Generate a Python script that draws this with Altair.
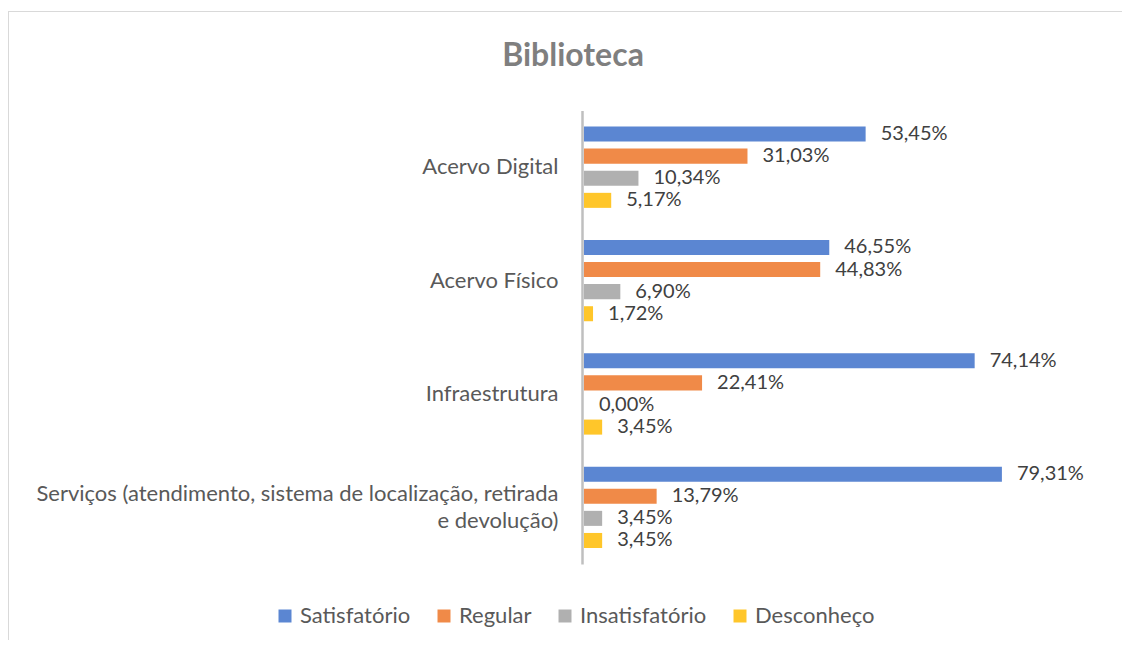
import altair as alt
import pandas as pd

categories = [
    "Acervo Digital",
    "Acervo Físico",
    "Infraestrutura",
    "Serviços (atendimento, sistema de localização, retirada e devolução)",
]
series = ["Satisfatório", "Regular", "Insatisfatório", "Desconheço"]
colors = ["#5B86D2", "#F08A48", "#B0B0B0", "#FFC62A"]

satisfatorio = [53.45, 46.55, 74.14, 79.31]
regular = [31.03, 44.83, 22.41, 13.79]
insatisfatorio = [10.34, 6.90, 0.00, 3.45]
desconheco = [5.17, 1.72, 3.45, 3.45]

values_by_series = [satisfatorio, regular, insatisfatorio, desconheco]

rows = []
for s, vals in zip(series, values_by_series):
    for c, v in zip(categories, vals):
        rows.append({"categoria": c, "serie": s, "valor": v,
                     "rotulo": f"{v:.2f}".replace(".", ",") + "%"})
df = pd.DataFrame(rows)

W, H = 1114, 629
FONT = "Lato"

x_scale = alt.Scale(domain=[-109.3, 102.1])
y_scale = alt.Scale(domain=categories, range=[99.5, 553], paddingInner=0.22, paddingOuter=0.11)
yoff_scale = alt.Scale(domain=series, paddingInner=0.32, paddingOuter=0.16)

long_label = categories[3]
label_expr = (
    f"datum.label == '{long_label}' ? "
    "['Serviços (atendimento, sistema de localização, retirada', 'e devolução)'] : datum.label"
)
label_offset = {"condition": {"test": f"datum.value == '{long_label}'", "value": -13.5}, "value": 0}

base = alt.Chart(df)

bars = base.mark_bar().encode(
    x=alt.X("valor:Q", scale=x_scale, axis=None),
    x2=alt.datum(0),
    y=alt.Y("categoria:N", scale=y_scale, sort=categories, title=None,
            axis=alt.Axis(orient="left", offset=-574, ticks=False, tickSize=0,
                          labelPadding=24, labelFont=FONT, labelFontSize=22,
                          labelColor="#595959", labelLimit=700,
                          labelExpr=label_expr, labelLineHeight=27,
                          labelOffset=label_offset,
                          domainColor="#BFBFBF", domainWidth=2.5, grid=False)),
    yOffset=alt.YOffset("serie:N", scale=yoff_scale, sort=series),
    color=alt.Color("serie:N", sort=series,
                    scale=alt.Scale(domain=series, range=colors),
                    legend=alt.Legend(title=None, orient="none", direction="horizontal",
                                      legendX=266, legendY=594, symbolType="square",
                                      symbolSize=169, symbolStrokeWidth=0,
                                      labelFont=FONT, labelFontSize=22,
                                      labelColor="#595959", labelOffset=4,
                                      columnPadding=22)),
)

labels = base.mark_text(align="left", baseline="middle", dx=15, font=FONT,
                        fontSize=20, color="#404040").encode(
    x=alt.X("valor:Q", scale=x_scale),
    y=alt.Y("categoria:N", scale=y_scale, sort=categories),
    yOffset=alt.YOffset("serie:N", scale=yoff_scale, sort=series),
    text="rotulo:N",
)

frame_top = alt.Chart(pd.DataFrame({"k": [0]})).mark_rule(color="#D9D9D9", strokeWidth=1).encode(
    x=alt.value(0), x2=alt.value(W), y=alt.value(0.5)
)
frame_left = alt.Chart(pd.DataFrame({"k": [0]})).mark_rule(color="#D9D9D9", strokeWidth=1).encode(
    x=alt.value(0.5), y=alt.value(0), y2=alt.value(H)
)

chart = alt.layer(bars, labels, frame_top, frame_left).properties(
    width=W, height=H,
    padding={"left": 0, "top": 3, "right": 0, "bottom": 0},
    autosize=alt.AutoSizeParams(type="none"),
    title=alt.Title("Biblioteca", font=FONT, fontSize=32, fontWeight="bold",
                    color="#7F7F7F", anchor="middle", frame="group",
                    offset=-87, dx=8, baseline="alphabetic"),
).configure_view(stroke=None).configure(background="white")

chart.save("out.html", embed_options={"renderer": "svg", "actions": False})
